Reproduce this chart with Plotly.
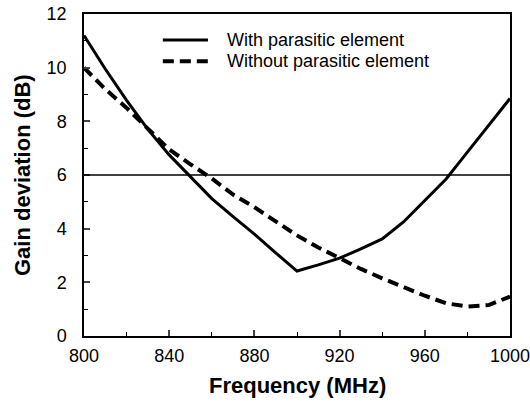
import plotly.graph_objects as go

freq = [800, 810, 820, 830, 840, 850, 860, 870, 880, 890, 900, 910, 920, 930, 940, 950, 960, 970, 980, 990, 1000]
with_parasitic = [11.2, 9.95, 8.78, 7.7, 6.75, 5.93, 5.12, 4.45, 3.8, 3.1, 2.42, 2.65, 2.9, 3.25, 3.62, 4.25, 5.05, 5.85, 6.85, 7.85, 8.85]
without_parasitic = [10.0, 9.2, 8.5, 7.75, 6.95, 6.4, 5.87, 5.27, 4.8, 4.27, 3.75, 3.3, 2.9, 2.5, 2.15, 1.82, 1.5, 1.22, 1.1, 1.15, 1.47]
series_names = ["With parasitic element", "Without parasitic element"]
x_ticks = [800, 840, 880, 920, 960, 1000]
y_ticks = [0, 2, 4, 6, 8, 10, 12]
ref_level = 6

font_family = "Liberation Sans, Arial, sans-serif"
solid_style = dict(color="black", width=3)
dash_style = dict(color="black", width=4, dash="11px,6px")

fig = go.Figure()
fig.add_trace(go.Scatter(x=freq, y=with_parasitic, mode="lines", name=series_names[0],
                         line=solid_style, showlegend=False))
fig.add_trace(go.Scatter(x=freq, y=without_parasitic, mode="lines", name=series_names[1],
                         line=dash_style, showlegend=False))

fig.add_shape(type="line", xref="x", yref="y", x0=800, x1=1000, y0=ref_level, y1=ref_level,
              line=dict(color="black", width=1.4))

# manual legend (paper coordinates)
leg_x0, leg_x1, leg_tx = 0.185, 0.291, 0.33
leg_rows = [0.919, 0.853]
for name, style, yy in zip(series_names, [solid_style, dash_style], leg_rows):
    fig.add_shape(type="line", xref="paper", yref="paper", x0=leg_x0, x1=leg_x1, y0=yy, y1=yy,
                  line=style)
    fig.add_annotation(text=name, xref="paper", yref="paper", x=leg_tx, y=yy,
                       xanchor="left", yanchor="middle", showarrow=False,
                       font=dict(size=18, family=font_family, color="black"))

fig.add_annotation(text="<b>Gain deviation (dB)</b>", textangle=-90, xref="paper", yref="paper",
                   x=-0.1455, y=0.5, xanchor="center", yanchor="middle", showarrow=False,
                   font=dict(size=22, family=font_family, color="black"))
fig.add_annotation(text="<b>Frequency (MHz)</b>", xref="paper", yref="paper",
                   x=0.5, y=-0.155, xanchor="center", yanchor="middle", showarrow=False,
                   font=dict(size=22, family=font_family, color="black"))

fig.update_layout(
    width=530, height=403,
    margin=dict(l=84, r=20, t=14, b=67),
    paper_bgcolor="white", plot_bgcolor="white",
    font=dict(family=font_family, color="black", size=18),
    showlegend=False,
    xaxis=dict(range=[800, 1000], tickvals=x_ticks, ticks="inside", ticklen=6, tickwidth=1.5,
               showline=True, linecolor="black", linewidth=1.5, mirror=True, showgrid=False,
               zeroline=False, ticklabelstandoff=3, automargin=False, ticklabeloverflow="allow",
               minor=dict(dtick=20, ticks="inside", ticklen=4, tickwidth=1, tickcolor="black", showgrid=False)),
    yaxis=dict(range=[0, 12], tickvals=y_ticks, ticks="inside", ticklen=6, tickwidth=1.5,
               showline=True, linecolor="black", linewidth=1.5, mirror=True, showgrid=False,
               zeroline=False, ticklabelstandoff=12, automargin=False, ticklabeloverflow="allow",
               minor=dict(dtick=1, ticks="inside", ticklen=4, tickwidth=1, tickcolor="black", showgrid=False)),
)

fig.write_html("out.html")
